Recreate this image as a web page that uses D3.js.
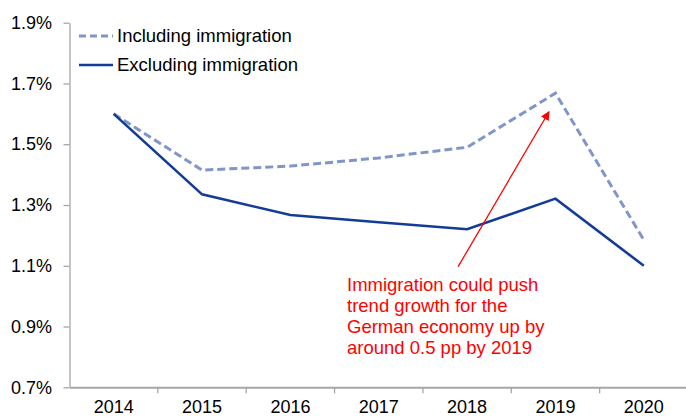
<!DOCTYPE html>
<html><head><meta charset="utf-8">
<script src="https://cdn.jsdelivr.net/npm/d3@7"></script>
<style>body{margin:0;background:#fff}svg{display:block;font-family:"Liberation Sans",Arial,sans-serif}</style>
</head><body><svg id="c" width="686" height="417"></svg>
<script>
const years = ["2014","2015","2016","2017","2018","2019","2020"];
const including = [1.60, 1.415, 1.428, 1.455, 1.49, 1.668, 1.185];
const excluding = [1.60, 1.335, 1.267, 1.243, 1.22, 1.321, 1.10];
const yTicks = [0.7, 0.9, 1.1, 1.3, 1.5, 1.7, 1.9];
const seriesNames = ["Including immigration", "Excluding immigration"];
const noteLines = ["Immigration could push", "trend growth for the", "German economy up by", "around 0.5 pp by 2019"];

const svg = d3.select("#c");
const x = d3.scaleBand().domain(years).range([69.5, 688]);
const y = d3.scaleLinear().domain([0.7, 1.9]).range([387.3, 22.7]);
const axisColor = "#a6a6a6";

// y axis
const ya = svg.append("g").attr("transform","translate(69.5,0)")
  .call(d3.axisLeft(y).tickValues(yTicks).tickSize(6).tickSizeOuter(0).tickFormat(d => d.toFixed(1) + "%"));
ya.select(".domain").attr("stroke", axisColor).attr("stroke-width",1.3);
ya.selectAll(".tick line").attr("stroke", axisColor).attr("stroke-width",1.3);
ya.selectAll(".tick text").attr("font-size",18).attr("fill","#000").attr("x",-17.5).attr("font-family","Liberation Sans, Arial");

// x axis
const xa = svg.append("g").attr("transform","translate(0,387.3)")
  .call(d3.axisBottom(x).tickSize(0).tickSizeOuter(0));
xa.select(".domain").attr("stroke", axisColor).attr("stroke-width",2);
xa.selectAll(".tick text").attr("font-size",18).attr("fill","#000").attr("dy",0).attr("y",25.5).attr("font-family","Liberation Sans, Arial");
// boundary ticks between categories
xa.selectAll(".bt").data(years.slice(1)).enter().append("line")
  .attr("x1", d => x(d)).attr("x2", d => x(d)).attr("y1",0).attr("y2",6)
  .attr("stroke", axisColor).attr("stroke-width",1.3);

const line = d3.line().x((d,i) => x(years[i]) + x.bandwidth()/2).y(d => y(d));

svg.append("path").datum(including).attr("d", line).attr("fill","none")
  .attr("stroke","#8096c8").attr("stroke-width",3).attr("stroke-dasharray","8,4");
svg.append("path").datum(excluding).attr("d", line).attr("fill","none")
  .attr("stroke","#133c96").attr("stroke-width",2.6);

// legend
const lg = svg.append("g");
lg.append("line").attr("x1",79).attr("x2",113).attr("y1",36).attr("y2",36)
  .attr("stroke","#8096c8").attr("stroke-width",3).attr("stroke-dasharray","7,4");
lg.append("line").attr("x1",79).attr("x2",113).attr("y1",65).attr("y2",65)
  .attr("stroke","#133c96").attr("stroke-width",2.6);
lg.selectAll("text").data(seriesNames).enter().append("text")
  .attr("x",117).attr("y",(d,i)=>36 + i*29).attr("dy","0.35em")
  .attr("font-size",18.5).attr("fill","#000").text(d=>d);

// annotation
svg.append("defs").append("marker").attr("id","ah").attr("viewBox","0 0 10 10")
  .attr("refX",9).attr("refY",5).attr("markerWidth",7).attr("markerHeight",7).attr("orient","auto")
  .append("path").attr("d","M0,0L10,5L0,10z").attr("fill","#ff0000");
const ax0 = x("2018") + x.bandwidth()/2 - 9, ay0 = y(1.097);
const ax1 = x("2019") + x.bandwidth()/2 - 6.5, ay1 = y(1.607);
svg.append("line").attr("x1",ax0).attr("y1",ay0).attr("x2",ax1).attr("y2",ay1)
  .attr("stroke","#ff0000").attr("stroke-width",1.3).attr("marker-end","url(#ah)");
svg.append("text").attr("x",347).attr("y",290.7).attr("fill","#ff0000").attr("font-size",18.5)
  .selectAll("tspan").data(noteLines).enter().append("tspan")
  .attr("x",347).attr("dy",(d,i)=> i===0 ? 0 : 21.1).text(d=>d);
</script></body></html>
